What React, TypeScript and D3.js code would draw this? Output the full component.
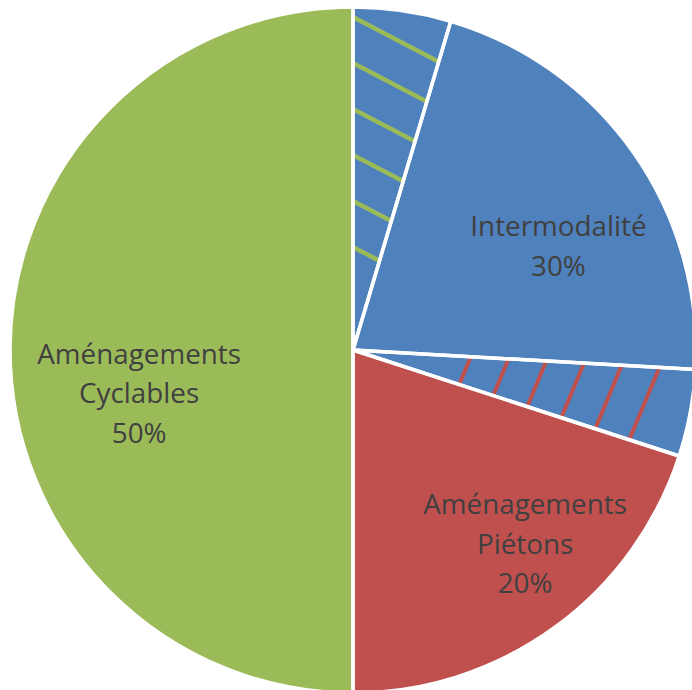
import React from "react";
import * as d3 from "d3";

// ---- data ----
const segments = [
  "Intermodalité ∩ Aménagements Cyclables",
  "Intermodalité",
  "Intermodalité ∩ Aménagements Piétons",
  "Aménagements Piétons",
  "Aménagements Cyclables",
];
const values = [4.6, 21.3, 4.1, 20, 50];
const fills = ["#4F81BD", "#4F81BD", "#4F81BD", "#C0504D", "#9BBB59"];
const hatchColors = ["#9BBB59", null, "#C0504D", null, null];

const labelLines = [["Intermodalité"], ["Aménagements", "Piétons"], ["Aménagements", "Cyclables"]];
const labelPercents = ["30%", "20%", "50%"];

const W = 692;
const H = 690;
const cx = 353;
const cy = 350;
const R = 343;

// hatch styling: distance of first line along the slice's start ray, step, count, direction (deg, screen)
const hatchStyle: Record<number, { start: number; step: number; count: number; dir: number; width: number }> = {
  0: { start: 333, step: -46, count: 6, dir: 27.6, width: 4.5 },
  2: { start: 118, step: 37.8, count: 6, dir: 112.7, width: 4 },
};
// label placement (angle deg clockwise from top, radius fraction)
const labelPlace = [
  { a: 63.2, f: 0.675 },
  { a: 138.4, f: 0.76 },
  { a: 258.5, f: 0.64 },
];

export default function App() {
  const pie = d3
    .pie<number>()
    .sort(null)
    .value((d) => d)
    .startAngle(0)
    .endAngle(2 * Math.PI);
  const arcs = pie(values);
  const arc = d3.arc<d3.PieArcDatum<number>>().innerRadius(0).outerRadius(R);

  const fontSize = 27.8;
  const lh = 39.5;
  const capH = 19.5;

  return (
    <svg
      width={W}
      height={H}
      style={{ position: "absolute", left: 0, top: 0 }}
      fontFamily="'Open Sans', sans-serif"
    >
      <defs>
        {arcs.map((a, i) =>
          hatchColors[i] ? (
            <clipPath id={`clip${i}`} key={i}>
              <path d={arc(a) || ""} transform={`translate(${cx},${cy})`} />
            </clipPath>
          ) : null
        )}
      </defs>
      {arcs.map((a, i) => (
        <path key={`f${i}`} d={arc(a) || ""} transform={`translate(${cx},${cy})`} fill={fills[i]} />
      ))}
      {arcs.map((a, i) => {
        const hc = hatchColors[i];
        const hs = hatchStyle[i];
        if (!hc || !hs) return null;
        const a0 = a.startAngle;
        const dr = (hs.dir * Math.PI) / 180;
        const ux = Math.cos(dr);
        const uy = Math.sin(dr);
        return (
          <g key={`h${i}`} clipPath={`url(#clip${i})`}>
            {d3.range(hs.count).map((k) => {
              const d = hs.start + k * hs.step;
              const px = cx + d * Math.sin(a0);
              const py = cy - d * Math.cos(a0);
              return (
                <line
                  key={k}
                  x1={px - 200 * ux}
                  y1={py - 200 * uy}
                  x2={px + 200 * ux}
                  y2={py + 200 * uy}
                  stroke={hc}
                  strokeWidth={hs.width}
                />
              );
            })}
          </g>
        );
      })}
      {arcs.map((a, i) => (
        <path
          key={`s${i}`}
          d={arc(a) || ""}
          transform={`translate(${cx},${cy})`}
          fill="none"
          stroke="#ffffff"
          strokeWidth={3.5}
          strokeLinejoin="round"
        />
      ))}
      {labelLines.map((lines, i) => {
        const all = [...lines, labelPercents[i]];
        const ang = (labelPlace[i].a * Math.PI) / 180;
        const x = cx + labelPlace[i].f * 341 * Math.sin(ang);
        const y = cy - labelPlace[i].f * 341 * Math.cos(ang);
        const height = capH + (all.length - 1) * lh;
        const firstBase = y - height / 2 + capH;
        return (
          <text key={`t${i}`} textAnchor="middle" fontSize={fontSize} fill="#404040">
            {all.map((t, j) => (
              <tspan key={j} x={x} y={firstBase + j * lh}>
                {t}
              </tspan>
            ))}
          </text>
        );
      })}
    </svg>
  );
}
